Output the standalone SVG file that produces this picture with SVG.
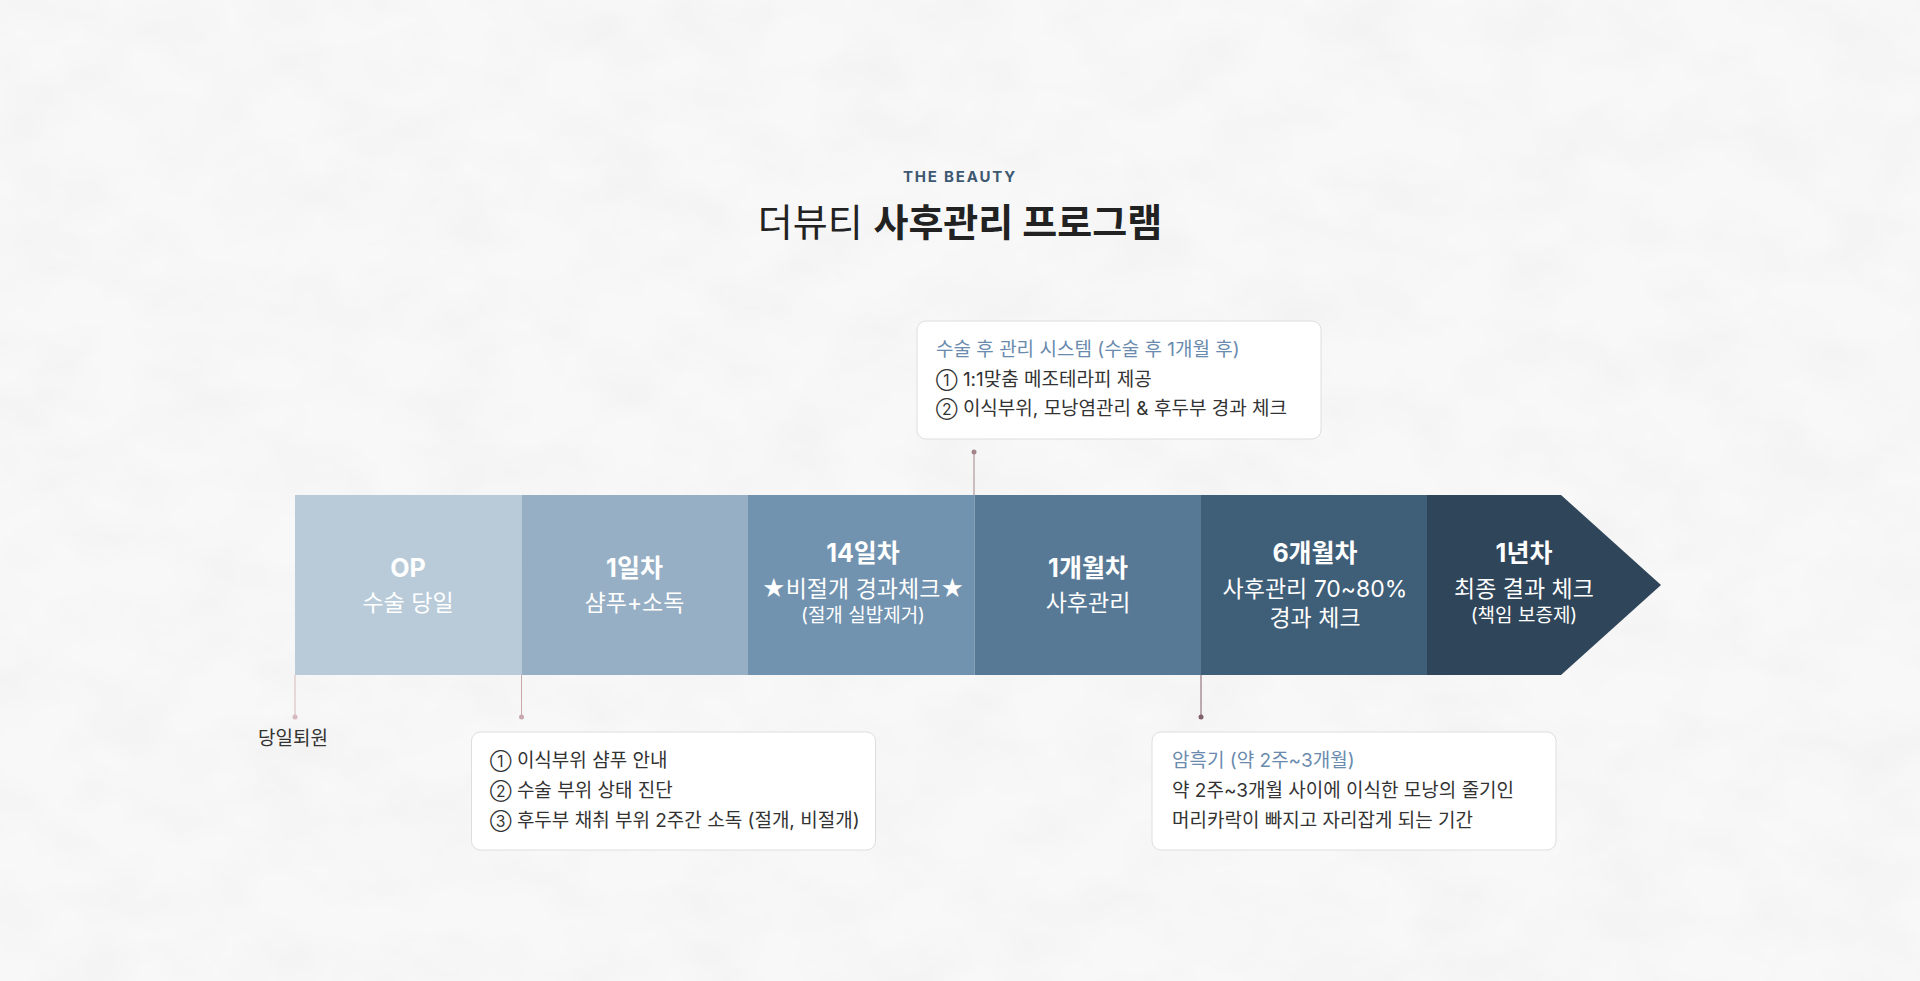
<svg xmlns="http://www.w3.org/2000/svg" width="1920" height="981" viewBox="0 0 1920 981">
<defs>
<filter id="paper" x="0" y="0" width="100%" height="100%">
<feTurbulence type="fractalNoise" baseFrequency="0.012 0.018" numOctaves="3" seed="7"/>
<feColorMatrix type="matrix" values="0 0 0 0 0.45  0 0 0 0 0.45  0 0 0 0 0.45  0.14 0 0 0 -0.05"/>
</filter>
<style>
text{font-family:Inter,"Noto Sans CJK KR","Noto Sans",sans-serif}
.h{fill:#fff;font-weight:700;font-size:25px;text-anchor:middle}
.s{fill:#fff;font-size:23px;text-anchor:middle}
.xs{fill:#fff;font-size:19px;text-anchor:middle}
.box{fill:#fff;stroke:#dedede;stroke-width:1}
.bt{fill:#6a8bad;font-size:19px}
.bb{fill:#333;font-size:19px}
.n{font-size:15.5px}
.lbl{fill:#333;font-size:19px;text-anchor:middle}
</style>
</defs>
<rect width="1920" height="981" fill="#f8f8f8"/>
<rect width="1920" height="981" filter="url(#paper)"/>

<g id="title">
<text x="960" y="182" text-anchor="middle" style="font-size:15px;font-weight:700;letter-spacing:1.8px;fill:#3d5870">THE BEAUTY</text>
<text x="960" y="236" text-anchor="middle" style="font-size:38px;fill:#222"><tspan style="font-weight:400">더뷰티 </tspan><tspan style="font-weight:700">사후관리 프로그램</tspan></text>
</g>

<g id="connectors">
<line x1="295" y1="675" x2="295" y2="717" stroke="#d6b9bd" stroke-width="1"/>
<circle cx="295" cy="717" r="2.5" fill="#d6b9bd"/>
<line x1="521.5" y1="675" x2="521.5" y2="717" stroke="#c9a8ad" stroke-width="1"/>
<circle cx="521.5" cy="717" r="2.5" fill="#c9a8ad"/>
<line x1="974" y1="452" x2="974" y2="495" stroke="#a3858a" stroke-width="1"/>
<circle cx="974" cy="452" r="2.5" fill="#a3858a"/>
<line x1="1201" y1="675" x2="1201" y2="717" stroke="#80616a" stroke-width="1"/>
<circle cx="1201" cy="717" r="2.5" fill="#80616a"/>
</g>

<g id="seg-op">
<rect x="295" y="495" width="226.5" height="180" fill="#b9cbd9"/>
<text class="h" x="408" y="577">OP</text>
<text class="s" x="408" y="611">수술 당일</text>
</g>
<g id="seg-day1">
<rect x="521.5" y="495" width="226.5" height="180" fill="#96afc4"/>
<text class="h" x="634.5" y="577">1일차</text>
<text class="s" x="634.5" y="611">샴푸+소독</text>
</g>
<g id="seg-day14">
<rect x="748" y="495" width="226.5" height="180" fill="#7293af"/>
<text class="h" x="863" y="562">14일차</text>
<text class="s" x="863" y="597">★비절개 경과체크★</text>
<text class="xs" x="863" y="622">(절개 실밥제거)</text>
</g>
<g id="seg-month1">
<rect x="974.5" y="495" width="226.5" height="180" fill="#577995"/>
<text class="h" x="1088" y="577">1개월차</text>
<text class="s" x="1088" y="611">사후관리</text>
</g>
<g id="seg-month6">
<rect x="1201" y="495" width="226.5" height="180" fill="#3f5e78"/>
<text class="h" x="1315" y="562">6개월차</text>
<text class="s" x="1315" y="597">사후관리 70~80%</text>
<text class="s" x="1315" y="626">경과 체크</text>
</g>
<g id="seg-year1">
<polygon points="1427,495 1561,495 1661,585 1561,675 1427,675" fill="#2f4559"/>
<text class="h" x="1524" y="562">1년차</text>
<text class="s" x="1524" y="597">최종 결과 체크</text>
<text class="xs" x="1524" y="622">(책임 보증제)</text>
</g>

<g id="label-discharge">
<text class="lbl" x="293" y="745">당일퇴원</text>
</g>

<g id="box-month1">
<rect class="box" x="917" y="321" width="404" height="118" rx="9"/>
<text class="bt" x="936" y="356">수술 후 관리 시스템 (수술 후 1개월 후)</text>
<text class="bb" x="936" y="386"><tspan class="n">①</tspan> 1:1맞춤 메조테라피 제공</text>
<text class="bb" x="936" y="415"><tspan class="n">②</tspan> 이식부위, 모낭염관리 &amp; 후두부 경과 체크</text>
</g>

<g id="box-day1">
<rect class="box" x="471.5" y="732" width="404" height="118" rx="9"/>
<text class="bb" x="490" y="767"><tspan class="n">①</tspan> 이식부위 샴푸 안내</text>
<text class="bb" x="490" y="797"><tspan class="n">②</tspan> 수술 부위 상태 진단</text>
<text class="bb" x="490" y="827"><tspan class="n">③</tspan> 후두부 채취 부위 2주간 소독 (절개, 비절개)</text>
</g>

<g id="box-month6">
<rect class="box" x="1152" y="732" width="404" height="118" rx="9"/>
<text class="bt" x="1172" y="767">암흑기 (약 2주~3개월)</text>
<text class="bb" x="1172" y="797">약 2주~3개월 사이에 이식한 모낭의 줄기인</text>
<text class="bb" x="1172" y="827">머리카락이 빠지고 자리잡게 되는 기간</text>
</g>
</svg>
